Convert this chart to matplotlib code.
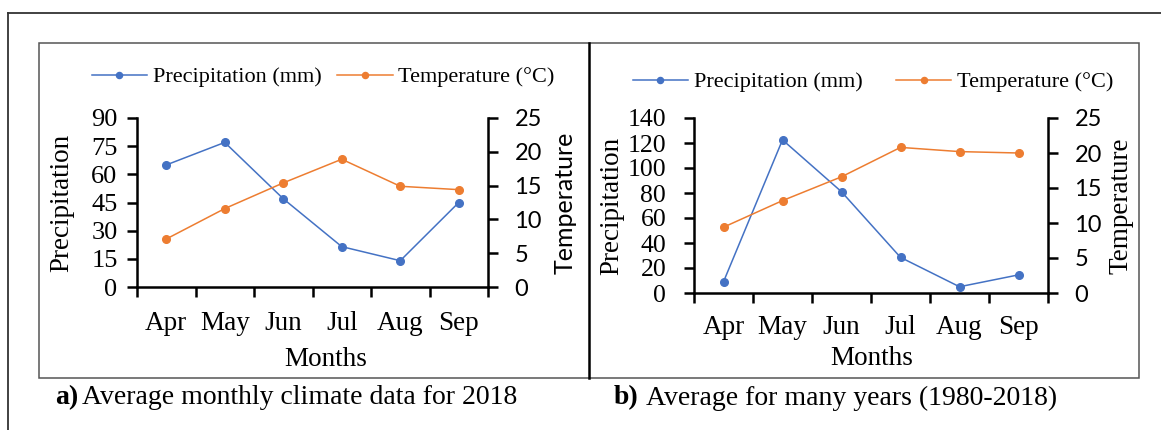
import matplotlib
matplotlib.use("Agg")
import matplotlib.pyplot as plt
from matplotlib.lines import Line2D
from matplotlib.patches import Rectangle

months = ["Apr", "May", "Jun", "Jul", "Aug", "Sep"]

# 2018 monthly averages
precip_2018 = [65, 77, 47, 21.5, 14, 45]
temp_2018 = [7.1, 11.6, 15.4, 18.9, 14.9, 14.4]

# long-term averages 1980-2018
precip_long = [9, 122.5, 81, 28.5, 5, 14.5]
temp_long = [9.4, 13.2, 16.6, 20.8, 20.2, 20.0]

BLUE = "#4472C4"
ORANGE = "#ED7D31"
SERIF = "Liberation Serif"
SANS = "Lato"

W, H = 1161, 430
fig = plt.figure(figsize=(W / 100, H / 100), dpi=100)


def fx(px):
    return px / W


def fy(py):
    return 1 - py / H


# frames
fig.add_artist(Line2D([fx(8), 1], [fy(13), fy(13)], color="#333333", lw=1.3))
fig.add_artist(Line2D([fx(8), fx(8)], [fy(13), 0], color="#333333", lw=1.3))
fig.add_artist(Rectangle((fx(39), fy(378)), fx(1139) - fx(39), fy(43) - fy(378),
                         fill=False, ec="#555555", lw=1.1))
fig.add_artist(Line2D([fx(589), fx(589)], [fy(43), fy(378)], color="black", lw=1.8))


def panel(rect, precip, temp, pmax, pstep, opts):
    ax = fig.add_axes(rect)
    x = list(range(len(months)))
    ax.plot(x, precip, color=BLUE, lw=1.1, marker="o", ms=5.5, label="Precipitation (mm)")
    ax2 = ax.twinx()
    ax2.plot(x, temp, color=ORANGE, lw=1.1, marker="o", ms=5.5, label="Temperature (°C)")

    ax.set_xlim(-0.5, len(months) - 0.5)
    ax.set_ylim(0, pmax)
    ax.set_yticks(range(0, pmax + 1, pstep))
    ax2.set_ylim(0, 25)
    ax2.set_yticks(range(0, 26, 5))

    # ticks between months, names centred under each point
    ax.set_xticks([i - 0.5 for i in range(len(months) + 1)])
    ax.set_xticklabels([])
    ax.set_xticks(x, minor=True)
    ax.set_xticklabels(months, minor=True, fontfamily=SERIF, fontsize=19.5)
    ax.tick_params(axis="x", which="major", direction="out", length=7, width=1.8)
    ax.tick_params(axis="x", which="minor", length=0, pad=opts["mpad"])
    ax.tick_params(axis="y", direction="out", length=7, width=1.8,
                   pad=opts["lpad"], labelsize=opts["lsize"])
    for t in ax.get_yticklabels():
        t.set_fontfamily(SERIF)
    ax2.tick_params(axis="y", direction="out", length=7, width=1.8, pad=12, labelsize=17)
    for t in ax2.get_yticklabels():
        t.set_fontfamily(SANS)

    for a in (ax, ax2):
        a.spines["top"].set_visible(False)
        for s in a.spines.values():
            s.set_linewidth(1.8)
    ax.spines["right"].set_visible(False)
    ax2.spines["left"].set_visible(False)
    ax2.spines["bottom"].set_visible(False)
    ax.patch.set_alpha(0)

    ax.set_xlabel("Months", fontfamily=SERIF, fontsize=19.5, va="center")
    ax.xaxis.set_label_coords(*opts["xlab"])
    ax.set_ylabel("Precipitation", fontfamily=SERIF, fontsize=19.5, va="center")
    ax.yaxis.set_label_coords(opts["plab"], 0.5)
    ax2.set_ylabel("Temperature", fontfamily=opts["tfont"], fontsize=opts["tsize"], va="center")
    ax2.yaxis.set_label_coords(opts["tlab"], 0.5)
    return ax, ax2


ax_a, ax_a2 = panel([fx(137), fy(287), fx(488) - fx(137), fy(118) - fy(287)],
                    precip_2018, temp_2018, 90, 15,
                    dict(lpad=7, lsize=19, mpad=17, xlab=(0.537, -0.43), plab=-0.214,
                         tlab=1.219, tfont=SANS, tsize=18))
ax_b, ax_b2 = panel([fx(694), fy(293), fx(1048) - fx(694), fy(118) - fy(293)],
                    precip_long, temp_long, 140, 20,
                    dict(lpad=13, lsize=18.5, mpad=16, xlab=(0.501, -0.375), plab=-0.233,
                         tlab=1.206, tfont=SERIF, tsize=19.5))

for ax, ax2, cx, cy, colsp in [(ax_a, ax_a2, 323, 77, 0.7), (ax_b, ax_b2, 873, 82, 1.5)]:
    handles = ax.get_lines() + ax2.get_lines()
    fig.legend(handles, [h.get_label() for h in handles], loc="center",
               bbox_to_anchor=(fx(cx), fy(cy)), ncol=2, frameon=False,
               handlelength=2.5, columnspacing=colsp, handletextpad=0.25,
               prop={"family": SERIF, "size": 16}, markerscale=0.8)

fig.text(fx(55), fy(398), "a)", fontfamily=SERIF, fontsize=20, fontweight="bold", va="center")
fig.text(fx(82), fy(398), "Average monthly climate data for 2018", fontfamily=SERIF,
         fontsize=20, va="center")
fig.text(fx(614), fy(398), "b)", fontfamily=SERIF, fontsize=20, fontweight="bold", va="center")
fig.text(fx(646), fy(398), "Average for many years (1980-2018)", fontfamily=SERIF,
         fontsize=20, va="center")

fig.savefig("out.png", dpi=100)
